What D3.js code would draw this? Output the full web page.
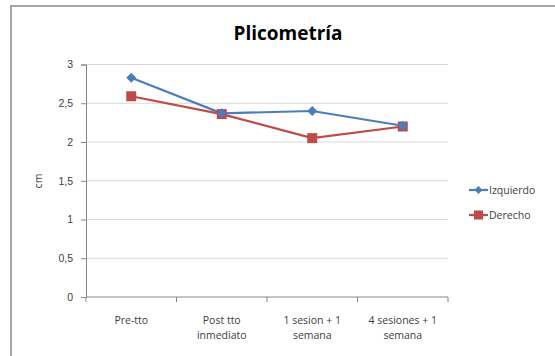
<!DOCTYPE html>
<html><head><meta charset="utf-8">
<script src="https://cdn.jsdelivr.net/npm/d3@7"></script>
<style>body{margin:0;background:#fff}svg{display:block;font-family:"Open Sans","Liberation Sans",sans-serif}</style>
</head><body><svg id="c" width="555" height="356"></svg>
<script>
const categories = [["Pre-tto"],["Post tto","inmediato"],["1 sesion + 1","semana"],["4 sesiones + 1","semana"]];
const izquierdo = [2.83, 2.37, 2.40, 2.21];
const derecho = [2.59, 2.36, 2.05, 2.20];
const yTicks = [0, 0.5, 1, 1.5, 2, 2.5, 3];
const seriesNames = ["Izquierdo", "Derecho"];
const colors = ["#4A7EBB", "#BE4B48"];

const svg = d3.select("#c");
svg.append("rect").attr("x",11).attr("y",6).attr("width",560).attr("height",370)
  .attr("fill","#fff").attr("stroke","#A6A6A6").attr("stroke-width",2);

const L=86, R=448, T=64.5, B=297;
const x = d3.scaleBand().domain(d3.range(categories.length)).range([L,R]);
const y = d3.scaleLinear().domain([0,3]).range([B,T]);

svg.append("text").attr("x",288).attr("y",40).attr("text-anchor","middle")
  .attr("font-size",19).attr("font-weight","bold").attr("fill","#000").text("Plicometría");

// grid
svg.append("g").selectAll("line").data(yTicks.filter(d=>d>0)).join("line")
  .attr("x1",L).attr("x2",R).attr("y1",d=>y(d)).attr("y2",d=>y(d))
  .attr("stroke","#D9D9D9").attr("stroke-width",1);

// y axis
const ya = svg.append("g").attr("transform",`translate(${L},0)`)
  .call(d3.axisLeft(y).tickValues(yTicks).tickSize(5).tickPadding(8)
    .tickFormat(d=>String(d).replace(".",",")));
ya.select(".domain").attr("stroke","#868686");
ya.selectAll(".tick line").attr("stroke","#868686");
ya.selectAll("text").attr("font-size",10.5).attr("fill","#404040");

// x axis
const xa = svg.append("g").attr("transform",`translate(0,${B})`);
xa.append("line").attr("x1",L).attr("x2",R).attr("stroke","#868686");
xa.selectAll("line.t").data(d3.range(categories.length+1)).join("line").attr("class","t")
  .attr("x1",i=>L+i*x.step()).attr("x2",i=>L+i*x.step()).attr("y1",0).attr("y2",5).attr("stroke","#868686");
categories.forEach((c,i)=>{
  const t = xa.append("text").attr("text-anchor","middle").attr("font-size",10.5).attr("fill","#404040")
    .attr("x",x(i)+x.bandwidth()/2).attr("y",27);
  c.forEach((ln,j)=>t.append("tspan").attr("x",x(i)+x.bandwidth()/2).attr("dy",j===0?0:15).text(ln));
});

svg.append("text").attr("transform","translate(42,181) rotate(-90)").attr("text-anchor","middle")
  .attr("font-size",10.5).attr("fill","#404040").text("cm");

const cx = i=>x(i)+x.bandwidth()/2;
const line = d3.line().x((d,i)=>cx(i)).y(d=>y(d));
[izquierdo, derecho].forEach((s,k)=>{
  svg.append("path").attr("d",line(s)).attr("fill","none").attr("stroke",colors[k]).attr("stroke-width",2.2);
});
// markers
svg.append("g").selectAll("rect").data(derecho).join("rect")
  .attr("x",(d,i)=>cx(i)-5).attr("y",d=>y(d)-5).attr("width",10).attr("height",10).attr("fill",colors[1]);
svg.append("g").selectAll("path").data(izquierdo).join("path")
  .attr("d",(d,i)=>`M${cx(i)},${y(d)-5}L${cx(i)+5},${y(d)}L${cx(i)},${y(d)+5}L${cx(i)-5},${y(d)}Z`).attr("fill",colors[0]);

// legend
const lg = svg.append("g");
seriesNames.forEach((n,k)=>{
  const yy = 190 + k*25;
  lg.append("line").attr("x1",469).attr("x2",488).attr("y1",yy).attr("y2",yy).attr("stroke",colors[k]).attr("stroke-width",2.2);
  if(k===0) lg.append("path").attr("d",`M478.5,${yy-4}L482.5,${yy}L478.5,${yy+4}L474.5,${yy}Z`).attr("fill",colors[0]);
  else lg.append("rect").attr("x",474).attr("y",yy-4.5).attr("width",9).attr("height",9).attr("fill",colors[1]);
  lg.append("text").attr("x",489).attr("y",yy+4).attr("font-size",10.5).attr("fill","#404040").text(n);
});
</script></body></html>
